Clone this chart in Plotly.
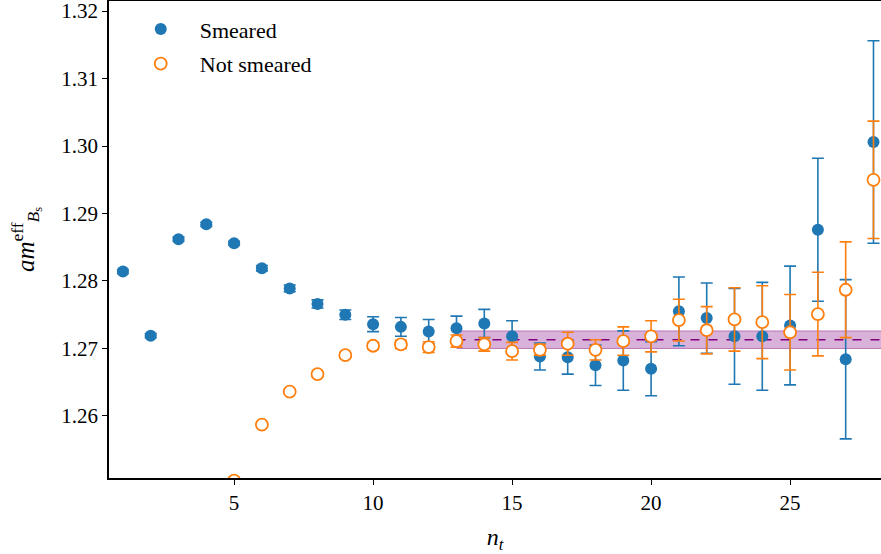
import plotly.graph_objects as go

# Effective mass per timeslice
nt = list(range(1, 29))

smeared = [1.2814, 1.2719, 1.2862, 1.2884, 1.2856, 1.2819, 1.2789, 1.2766, 1.2750,
           1.2736, 1.2732, 1.2725, 1.2730, 1.2737, 1.2718, 1.2688, 1.2687, 1.2675,
           1.2682, 1.2670, 1.2755, 1.2745, 1.2718, 1.2718, 1.2734, 1.2876, 1.2684,
           1.3006]
smeared_err = [0.0003, 0.0003, 0.0003, 0.0003, 0.0003, 0.0004, 0.0005, 0.0006, 0.0007,
               0.0011, 0.0014, 0.0018, 0.0018, 0.0021, 0.0023, 0.0020, 0.0025, 0.0030,
               0.0044, 0.0040, 0.0051, 0.0052, 0.0071, 0.0080, 0.0088, 0.0106, 0.0118,
               0.0150]

not_smeared_nt = list(range(5, 29))
not_smeared = [1.2504, 1.2587, 1.2636, 1.2662, 1.2690, 1.2704, 1.2706, 1.2702, 1.2711,
               1.2706, 1.2696, 1.2698, 1.2707, 1.2698, 1.2711, 1.2718, 1.2742, 1.2727,
               1.2743, 1.2739, 1.2724, 1.2751, 1.2787, 1.2950]
not_smeared_err = [0.0002, 0.0002, 0.0002, 0.0003, 0.0003, 0.0005, 0.0006, 0.0008, 0.0009,
                   0.0010, 0.0013, 0.0008, 0.0017, 0.0015, 0.0021, 0.0023, 0.0031, 0.0035,
                   0.0047, 0.0054, 0.0056, 0.0062, 0.0071, 0.0087]

# Plateau fit
fit_range = [13, 28.6]
fit_value = 1.2713
fit_err = 0.0013

BLUE = "#1f77b4"
ORANGE = "#ff7f0e"
PURPLE = "#800080"
FONT = "Liberation Serif, Times New Roman, Times, serif"

fig = go.Figure()

# fit band and central value
fig.add_trace(go.Scatter(
    x=fit_range, y=[fit_value + fit_err] * 2, mode="lines",
    line=dict(color="rgba(128,0,128,0.45)", width=1), showlegend=False, hoverinfo="skip"))
fig.add_trace(go.Scatter(
    x=fit_range, y=[fit_value - fit_err] * 2, mode="lines", fill="tonexty",
    fillcolor="rgba(128,0,128,0.3)",
    line=dict(color="rgba(128,0,128,0.45)", width=1), showlegend=False, hoverinfo="skip"))
fig.add_trace(go.Scatter(
    x=fit_range, y=[fit_value] * 2, mode="lines",
    line=dict(color=PURPLE, width=1.6, dash="dash"), showlegend=False, hoverinfo="skip"))

fig.add_trace(go.Scatter(
    x=nt, y=smeared, mode="markers", name="Smeared", legendgroup="s",
    marker=dict(symbol="circle", size=12, color=BLUE, line=dict(width=0)),
    error_y=dict(type="data", array=smeared_err, color=BLUE, thickness=1.6, width=6),
))
fig.add_trace(go.Scatter(
    x=not_smeared_nt, y=not_smeared, mode="markers", name="Not smeared", legendgroup="n",
    marker=dict(symbol="circle", size=12, color="white", line=dict(width=1.8, color=ORANGE)),
    error_y=dict(type="data", array=not_smeared_err, color=ORANGE, thickness=1.6, width=6),
))

fig.update_layout(
    width=881, height=554,
    margin=dict(l=109, r=0, t=1, b=76),
    paper_bgcolor="white", plot_bgcolor="white",
    font=dict(family=FONT, size=21, color="black"),
    legend=dict(x=0.0165, y=0.985, xanchor="left", yanchor="top", traceorder="grouped",
                bgcolor="rgba(0,0,0,0)", font=dict(size=22), itemwidth=68,
                tracegroupgap=3),
    xaxis=dict(
        range=[0.5, 28.27], tickvals=[5, 10, 15, 20, 25], ticks="outside", ticklen=5,
        tickwidth=1.2, tickcolor="black", showline=True, linecolor="black", linewidth=1.5,
        mirror=True, showgrid=False, zeroline=False, ticklabeloverflow="allow",
        title=dict(text="<i>n<sub>t</sub></i>", font=dict(size=24), standoff=14),
    ),
    yaxis=dict(
        range=[1.2508, 1.3215], tickvals=[1.26, 1.27, 1.28, 1.29, 1.30, 1.31, 1.32],
        tickformat=".2f", ticks="outside", ticklen=5, tickwidth=1.2, tickcolor="black",
        showline=True, linecolor="black", linewidth=1.5, showgrid=False, zeroline=False,
        ticklabeloverflow="allow",
        title=dict(text="<i>am</i><sup>eff</sup><sub><i>B</i><sub>s</sub></sub>",
                   font=dict(size=25), standoff=20),
    ),
)

fig.write_html("out.html")
